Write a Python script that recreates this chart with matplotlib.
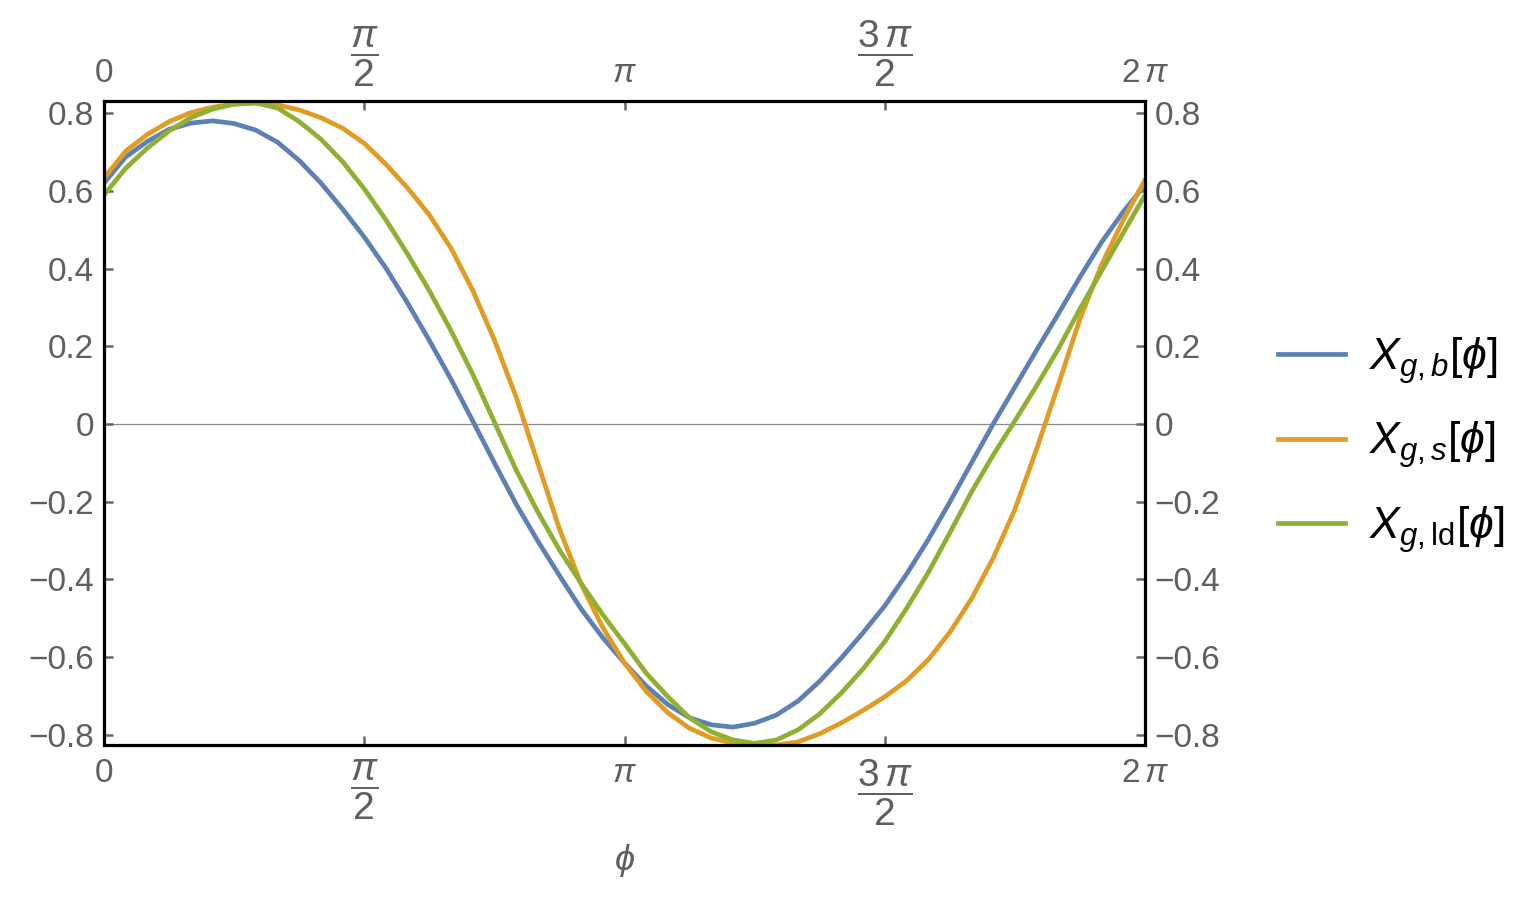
import numpy as np
import matplotlib.pyplot as plt

plt.rcParams['font.family'] = 'Liberation Sans'
plt.rcParams['mathtext.fontset'] = 'custom'
plt.rcParams['mathtext.rm'] = 'Liberation Sans'
plt.rcParams['mathtext.it'] = 'Liberation Sans:italic'
plt.rcParams['mathtext.bf'] = 'Liberation Sans:bold'

# phi sampled every 7.5 degrees from 0 to 2 pi
phi = np.linspace(0, 2 * np.pi, 49)

# values
x_b = [0.620, 0.687, 0.727, 0.758, 0.774, 0.780, 0.773, 0.756, 0.725, 0.678,
       0.620, 0.553, 0.481, 0.401, 0.311, 0.215, 0.115, 0.008, -0.100, -0.206,
       -0.301, -0.390, -0.476, -0.550, -0.615, -0.674, -0.722, -0.756, -0.774, -0.780,
       -0.770, -0.749, -0.713, -0.662, -0.602, -0.537, -0.468, -0.387, -0.298, -0.201,
       -0.100, 0.000, 0.095, 0.190, 0.283, 0.378, 0.468, 0.546, 0.615]
x_s = [0.633, 0.702, 0.745, 0.778, 0.801, 0.815, 0.823, 0.826, 0.821, 0.808,
       0.788, 0.761, 0.722, 0.668, 0.607, 0.538, 0.452, 0.344, 0.216, 0.070,
       -0.100, -0.270, -0.412, -0.524, -0.615, -0.688, -0.743, -0.783, -0.808, -0.821,
       -0.826, -0.826, -0.818, -0.797, -0.769, -0.737, -0.702, -0.661, -0.607, -0.536,
       -0.450, -0.345, -0.220, -0.065, 0.100, 0.270, 0.410, 0.525, 0.628]
x_ld = [0.589, 0.658, 0.710, 0.754, 0.788, 0.810, 0.823, 0.826, 0.813, 0.778,
        0.733, 0.675, 0.605, 0.525, 0.437, 0.343, 0.240, 0.128, 0.005, -0.118,
        -0.226, -0.324, -0.410, -0.491, -0.565, -0.641, -0.702, -0.756, -0.792, -0.813,
        -0.822, -0.813, -0.787, -0.746, -0.692, -0.630, -0.560, -0.475, -0.383, -0.280,
        -0.175, -0.080, 0.008, 0.098, 0.193, 0.296, 0.394, 0.492, 0.589]

xtick_vals = [0, np.pi / 2, np.pi, 3 * np.pi / 2, 2 * np.pi]
xtick_labels = [r'$0$', r'$\dfrac{\pi}{2}$', r'$\pi$', r'$\dfrac{3\,\pi}{2}$', r'$2\,\pi$']
ytick_vals = [0.8, 0.6, 0.4, 0.2, 0, -0.2, -0.4, -0.6, -0.8]
ytick_labels = ['0.8', '0.6', '0.4', '0.2', '0', '\u22120.2', '\u22120.4', '\u22120.6', '\u22120.8']

labels = [r'$X_{g,b}[\phi]$', r'$X_{g,s}[\phi]$', r'$X_{g,\mathrm{ld}}[\phi]$']
colors = ['#5e81b5', '#e19c24', '#8fb032']

fig = plt.figure(figsize=(15.34, 8.97), dpi=100)
ax = fig.add_axes([104 / 1534, 1 - 745 / 897, 1041 / 1534, 644 / 897])

ax.axhline(0, color='#8c8c8c', lw=0.9, zorder=1)
for ys, lab, c in zip([x_b, x_s, x_ld], labels, colors):
    ax.plot(phi, ys, color=c, lw=3.4, label=lab, zorder=2,
            solid_joinstyle='round')

ax.set_xlim(0, 2 * np.pi)
ax.set_ylim(-0.826, 0.831)
ax.set_xticks(xtick_vals)
ax.set_xticklabels(xtick_labels)
ax.set_yticks(ytick_vals)
ax.set_yticklabels(ytick_labels)
ax.tick_params(axis='both', direction='in', length=6.5, width=1.8, color='#666666',
               labelsize=24, labelcolor='#5f5f5f', top=True, right=True,
               labeltop=True, labelright=True)
ax.tick_params(axis='y', pad=7)
ax.tick_params(axis='x', pad=9)
# the fractions come out small in mathtext, so bump them up
for tick in ax.xaxis.get_major_ticks():
    if 'frac' in tick.label1.get_text():
        tick.label1.set_fontsize(28)
        tick.label2.set_fontsize(28)
for s in ax.spines.values():
    s.set_linewidth(2.3)

ax.set_xlabel(r'$\phi$', fontsize=26, color='#5f5f5f', labelpad=10)

fig.legend(loc='center left', bbox_to_anchor=(1278 / 1534, 1 - 445 / 897),
           frameon=False, fontsize=32, handlelength=1.5, handletextpad=0.55,
           labelspacing=0.75, borderpad=0, borderaxespad=0)

fig.savefig('out.png', dpi=100)
